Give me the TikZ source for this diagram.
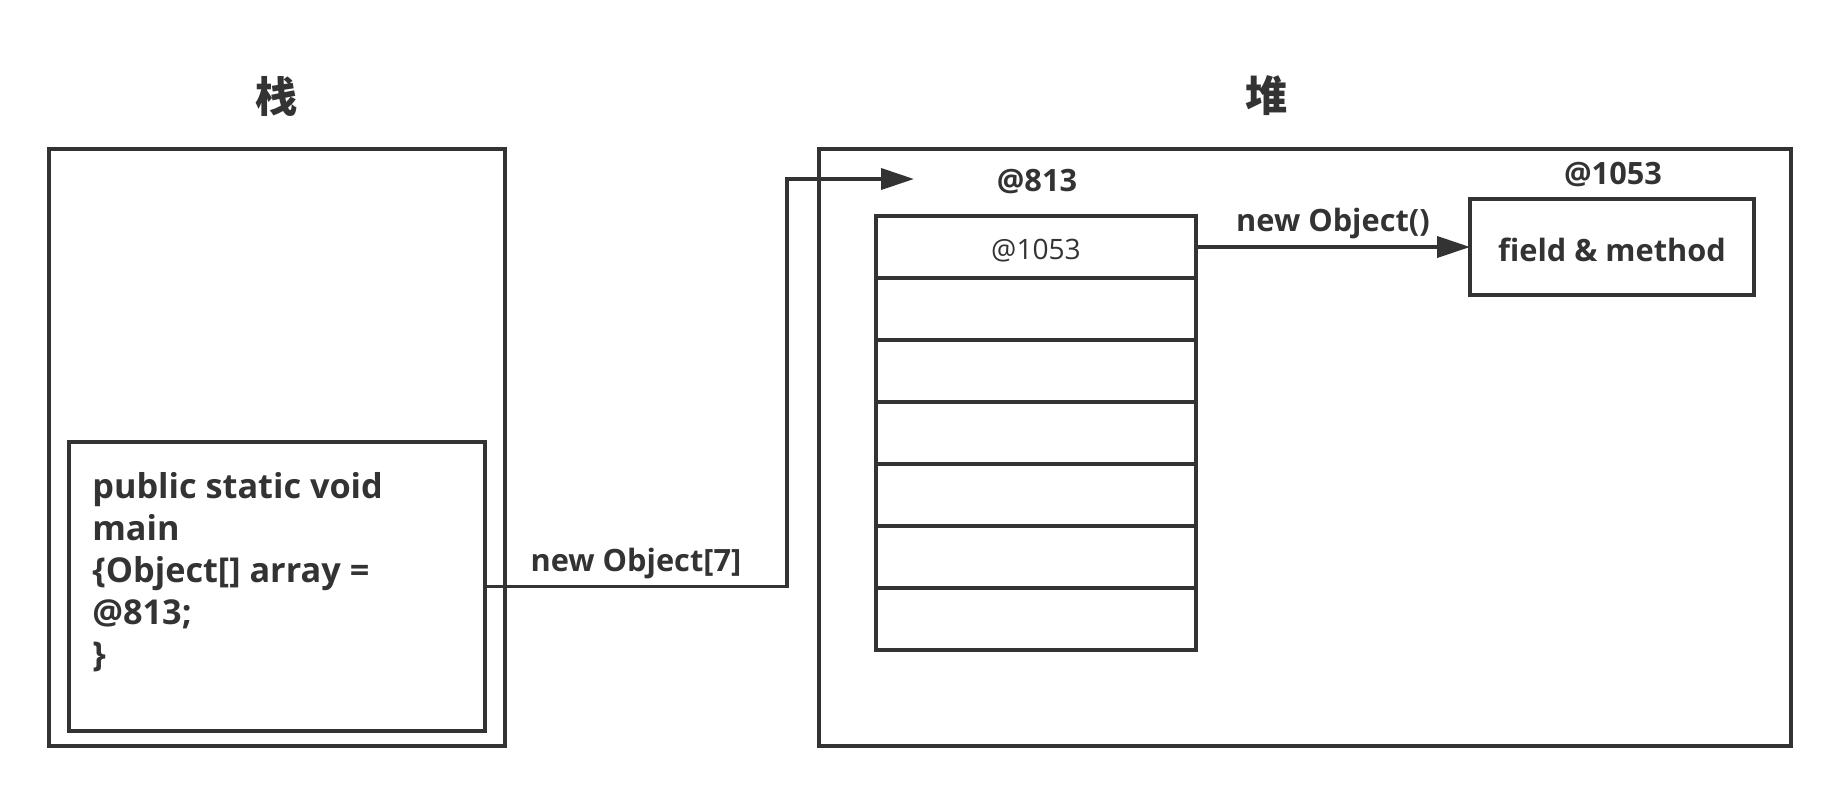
\documentclass[tikz,border=0pt]{standalone}
\usepackage{fontspec}
\setmainfont{Open Sans}
\newfontfamily\cjk{Noto Sans CJK SC}
\usetikzlibrary{positioning, arrows.meta, calc}
\definecolor{ink}{HTML}{333333}

\begin{document}
\begin{tikzpicture}[x=0.02cm, y=-0.02cm, every node/.style={text=ink},
	box/.style={draw=ink, line width=2.2pt, inner sep=0pt, outer sep=0pt},
	cell/.style={box, minimum width=6.4cm, minimum height=1.24cm, font=\fontsize{16}{19}\selectfont},
	link/.style={draw=ink, line width=2.2pt, -{Triangle[length=0.66cm, width=0.42cm]}},
	tag/.style={font=\bfseries\fontsize{17.5}{21}\selectfont},
	code/.style={font=\bfseries\fontsize{19.5}{23.8}\selectfont, align=left, inner sep=0pt},
	title/.style={font=\cjk\bfseries\fontsize{24}{28}\selectfont}]
	\useasboundingbox (0,0) rectangle (1842,796);
	
	% stack side
	\node[title] (stacktitle) at (277, 96) {栈};
	\node[box, minimum width=9.12cm, minimum height=11.94cm] (stack) at (277, 447.5) {};
	\node[box, minimum width=8.32cm, minimum height=5.78cm] (main) at (277, 586.5) {};
	\node[code, anchor=north west] (src) at (92, 472.5) {public static void\\main\\\{Object[] array =\\@813;\\\}};
	
	% heap side
	\node[title] (heaptitle) at (1267, 96) {堆};
	\node[box, minimum width=19.44cm, minimum height=11.94cm] (heap) at (1305, 447.5) {};
	\node[tag] (arraddr) at (1037, 182) {@813};
	\node[cell] (c1) at (1036, 247) {\raisebox{-2pt}[\height][\depth]{@1053}};
	\node[cell, below=0pt of c1] (c2) {};
	\node[cell, below=0pt of c2] (c3) {};
	\node[cell, below=0pt of c3] (c4) {};
	\node[cell, below=0pt of c4] (c5) {};
	\node[cell, below=0pt of c5] (c6) {};
	\node[cell, below=0pt of c6] (c7) {};
	\node[box, tag, minimum width=5.68cm, minimum height=1.92cm] (obj) at (1612, 247) {\raisebox{-1.5pt}[\height][\depth]{field \& method}};
	\node[tag] (objaddr) at (1613, 174) {@1053};
	
	\coordinate (turn) at (787, 179);
	\coordinate (arrin) at (914, 179);
	
	\draw[link] (main.east) -| node[tag, above, pos=0.25] (newarr) {new Object[7]} (turn) -- (arrin);
	\draw[link] (c1.east) -- node[tag, above] (newobj) {new Object()} (obj.west);
\end{tikzpicture}
\end{document}
